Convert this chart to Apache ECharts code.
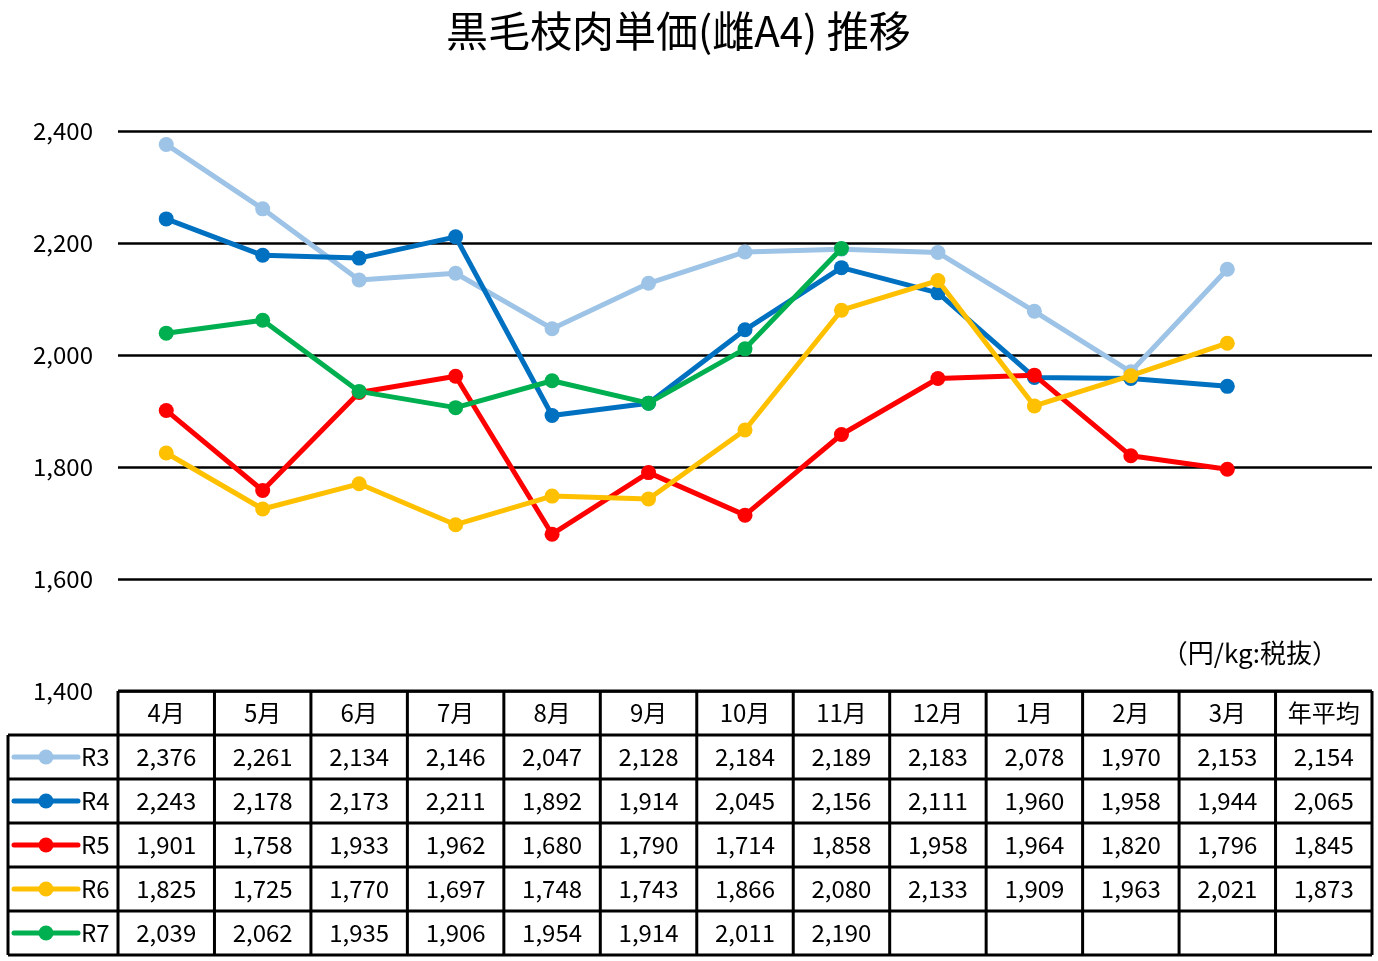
<!DOCTYPE html>
<html><head><meta charset="utf-8">
<script src="https://cdn.jsdelivr.net/npm/echarts@6/dist/echarts.min.js"></script>
<style>html,body{margin:0;padding:0;background:#fff}#c{width:1378px;height:961px}</style>
</head><body><div id="c"></div>
<script>
const months = ['4月','5月','6月','7月','8月','9月','10月','11月','12月','1月','2月','3月'];
const avgLabel = '年平均';
const seriesNames = ['R3','R4','R5','R6','R7'];
const colors = ['#9DC3E6','#0070C0','#FF0000','#FFC000','#00B050'];
const R3 = [2376,2261,2134,2146,2047,2128,2184,2189,2183,2078,1970,2153];
const R4 = [2243,2178,2173,2211,1892,1914,2045,2156,2111,1960,1958,1944];
const R5 = [1901,1758,1933,1962,1680,1790,1714,1858,1958,1964,1820,1796];
const R6 = [1825,1725,1770,1697,1748,1743,1866,2080,2133,1909,1963,2021];
const R7 = [2039,2062,1935,1906,1954,1914,2011,2190,null,null,null,null];
const averages = [2154,2065,1845,1873,null];
const yTicks = [1400,1600,1800,2000,2200,2400];
const title = '黒毛枝肉単価(雌A4) 推移';
const unitLabel = '（円/kg:税抜）';

const allData = [R3,R4,R5,R6,R7];
const cats = months.concat([avgLabel]);
const FONT = '"Noto Sans CJK JP", "Noto Sans", sans-serif';
const fmt = v => (v == null ? '' : v.toLocaleString('en-US'));

const chart = echarts.init(document.getElementById('c'));
chart.setOption({
  animation: false,
  backgroundColor: '#fff',
  title: { text: title, left: 441, top: 5,
    textStyle: { fontFamily: FONT, fontSize: 42, fontWeight: 'normal', color: '#000' } },
  grid: { left: 118, right: 6, top: 131, bottom: 270, containLabel: false },
  xAxis: { type: 'category', data: cats, boundaryGap: true,
    axisLine: { show: false }, axisTick: { show: false }, axisLabel: { show: false }, splitLine: { show: false } },
  yAxis: { type: 'value', min: yTicks[0], max: yTicks[yTicks.length-1], interval: 200,
    axisLine: { show: false }, axisTick: { show: false },
    axisLabel: { fontFamily: FONT, fontSize: 24, color: '#000', margin: 25, formatter: v => fmt(v) },
    splitLine: { lineStyle: { color: '#000', width: 2.5 } } },
  series: seriesNames.map((n, i) => ({
    name: n, type: 'line', data: allData[i].concat([null]),
    symbol: 'circle', symbolSize: 15, connectNulls: false,
    lineStyle: { color: colors[i], width: 5 },
    itemStyle: { color: colors[i] }, z: 2 + i
  }))
});

function drawTable() {
  const x0 = chart.convertToPixel({ xAxisIndex: 0 }, 0);
  const x1 = chart.convertToPixel({ xAxisIndex: 0 }, 1);
  const cw = x1 - x0;
  const left = x0 - cw / 2;
  const right = left + cw * cats.length;
  const top = chart.convertToPixel({ yAxisIndex: 0 }, yTicks[0]);
  const rh = 44;
  const labelLeft = 8;
  const g = [];
  const lw = 3;
  const line = (ax, ay, bx, by) => g.push({ type: 'line', shape: { x1: ax, y1: ay, x2: bx, y2: by },
    style: { stroke: '#000', lineWidth: lw }, z: 10 });
  const text = (t, x, y, size, align) => g.push({ type: 'text', x: x, y: y, z: 11,
    style: { text: t, fontFamily: FONT, fontSize: size, fill: '#000', align: align || 'center', verticalAlign: 'middle' } });
  const nRows = seriesNames.length + 1;
  const bottom = top + rh * nRows;
  line(left, top, right, top);
  for (let r = 1; r <= nRows; r++) line(labelLeft, top + rh * r, right, top + rh * r);
  for (let c = 0; c <= cats.length; c++) line(left + cw * c, top, left + cw * c, bottom);
  line(labelLeft, top + rh, labelLeft, bottom);
  cats.forEach((c, i) => text(c, left + cw * (i + 0.5), top + rh / 2, 24));
  seriesNames.forEach((n, r) => {
    const cy = top + rh * (r + 1.5);
    const vals = allData[r].concat([averages[r]]);
    vals.forEach((v, i) => text(fmt(v), left + cw * (i + 0.5), cy, 24));
    g.push({ type: 'line', shape: { x1: 14, y1: cy, x2: 78, y2: cy }, z: 11,
      style: { stroke: colors[r], lineWidth: 5, lineCap: 'round' } });
    g.push({ type: 'circle', shape: { cx: 46, cy: cy, r: 7.5 }, z: 12, style: { fill: colors[r] } });
    text(n, 81, cy, 24, 'left');
  });
  text(unitLabel, 1338, top - 38, 26, 'right');
  chart.setOption({ graphic: g });
}
drawTable();
</script></body></html>
